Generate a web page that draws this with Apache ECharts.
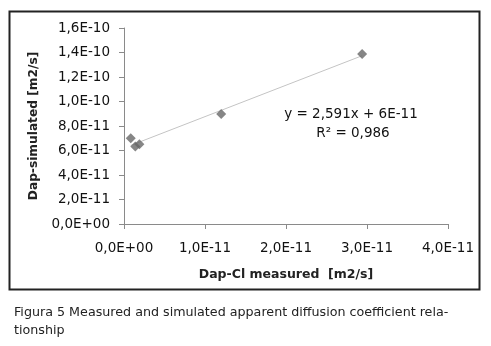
<!DOCTYPE html>
<html><head><meta charset="utf-8">
<script src="https://cdn.jsdelivr.net/npm/echarts@6/dist/echarts.min.js"></script>
<style>html,body{margin:0;padding:0;background:#fff}#c{width:491px;height:346px}</style>
</head><body><div id="c"></div>
<script>
const xMeasured = [0.083e-11, 0.14e-11, 0.19e-11, 1.20e-11, 2.94e-11];
const ySimulated = [7.0e-11, 6.32e-11, 6.52e-11, 8.97e-11, 13.87e-11];
const xTickLabels = ['0,0E+00','1,0E-11','2,0E-11','3,0E-11','4,0E-11'];
const yTickLabels = ['0,0E+00','2,0E-11','4,0E-11','6,0E-11','8,0E-11','1,0E-10','1,2E-10','1,4E-10','1,6E-10'];
const equationText = 'y = 2,591x + 6E-11';
const r2Text = 'R² = 0,986';
const captionLines = ['Figura 5 Measured and simulated apparent diffusion coefficient rela-', 'tionship'];

// least squares trend line from the data
const n = xMeasured.length;
const mx = xMeasured.reduce((a,b)=>a+b,0)/n, my = ySimulated.reduce((a,b)=>a+b,0)/n;
let sxy=0,sxx=0;
for(let i=0;i<n;i++){sxy+=(xMeasured[i]-mx)*(ySimulated[i]-my);sxx+=(xMeasured[i]-mx)**2;}
const slope = sxy/sxx, icpt = my - slope*mx;
const xmin = Math.min(...xMeasured), xmax = Math.max(...xMeasured);
const trend = [[xmin, icpt+slope*xmin],[xmax, icpt+slope*xmax]];

const chart = echarts.init(document.getElementById('c'));
const axisCol = '#8a8a8a';
const tickFont = 'DejaVu Sans';
chart.setOption({
  animation:false,
  grid:{left:124,right:43,top:28,bottom:122},
  xAxis:{type:'value',min:0,max:4e-11,interval:1e-11,
    axisLine:{show:true,lineStyle:{color:axisCol,width:1}},
    axisTick:{show:true,length:5,lineStyle:{color:axisCol}},
    splitLine:{show:false},
    axisLabel:{margin:17,color:'#111',fontFamily:tickFont,fontSize:13.5,
      formatter:(v)=>xTickLabels[Math.round(v/1e-11)]},
    name:'Dap-Cl measured  [m2/s]',nameLocation:'middle',nameGap:44,
    nameTextStyle:{fontFamily:'DejaVu Sans',fontWeight:'bold',fontSize:12.5,color:'#222'}},
  yAxis:{type:'value',min:0,max:1.6e-10,interval:2e-11,
    axisLine:{show:true,lineStyle:{color:axisCol,width:1}},
    axisTick:{show:true,length:5,lineStyle:{color:axisCol}},
    splitLine:{show:false},
    axisLabel:{margin:14,color:'#111',fontFamily:tickFont,fontSize:13.5,
      formatter:(v)=>yTickLabels[Math.round(v/2e-11)]},
    name:'Dap-simulated [m2/s]',nameLocation:'middle',nameGap:84,nameRotate:90,
    nameTextStyle:{fontFamily:'DejaVu Sans',fontWeight:'bold',fontSize:12.2,color:'#222'}},
  series:[
    {type:'line',data:trend,symbol:'none',lineStyle:{color:'#c4c4c4',width:1},z:1},
    {type:'scatter',data:xMeasured.map((x,i)=>[x,ySimulated[i]]),symbol:'diamond',symbolSize:10,
      itemStyle:{color:'#686868'},z:2}
  ],
  graphic:[
    {type:'rect',shape:{x:9.5,y:11.5,width:470,height:278},style:{fill:'none',stroke:'#222',lineWidth:2}},
    {type:'text',x:351,y:114,style:{text:equationText,font:'13.5px "DejaVu Sans"',fill:'#111',align:'center',verticalAlign:'middle'}},
    {type:'text',x:353,y:133,style:{text:r2Text,font:'13.5px "DejaVu Sans"',fill:'#111',align:'center',verticalAlign:'middle'}},
    {type:'text',x:14,y:313,style:{text:captionLines[0],font:'12.7px "DejaVu Sans"',fill:'#222',verticalAlign:'middle'}},
    {type:'text',x:14,y:331,style:{text:captionLines[1],font:'12.7px "DejaVu Sans"',fill:'#222',verticalAlign:'middle'}}
  ]
});
</script></body></html>
